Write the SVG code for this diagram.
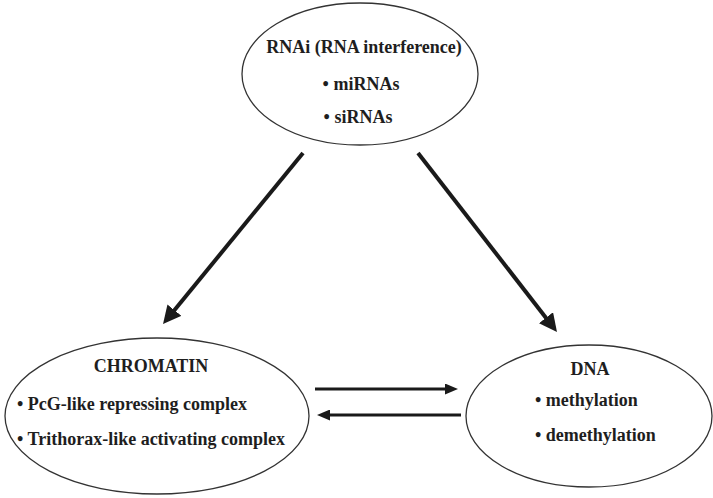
<svg xmlns="http://www.w3.org/2000/svg" width="713" height="498" viewBox="0 0 713 498">
<style>
.node ellipse{fill:#fff;stroke:#333;stroke-width:1.3}
text{font-family:"Liberation Serif","Times New Roman",serif;font-weight:bold;font-size:18px;fill:#1e1e1e}
.c{text-anchor:middle}
.big{stroke:#1a1a1a;stroke-width:4;fill:none}
.small{stroke:#1a1a1a;stroke-width:3;fill:none}
</style>
<defs>
<marker id="hb" markerUnits="userSpaceOnUse" markerWidth="18" markerHeight="18" refX="4" refY="9" orient="auto">
<path d="M0,0 L18,9 L0,18 z" fill="#1a1a1a"/>
</marker>
<marker id="hs" markerUnits="userSpaceOnUse" markerWidth="13" markerHeight="11" refX="3" refY="5.5" orient="auto">
<path d="M0,0 L13,5.5 L0,11 z" fill="#1a1a1a"/>
</marker>
</defs>
<rect width="713" height="498" fill="#fff"/>
<g id="rnai" class="node">
<ellipse cx="360" cy="74" rx="118" ry="71"/>
<text class="c" x="364" y="53">RNAi (RNA interference)</text>
<text class="c" x="361" y="90">• miRNAs</text>
<text class="c" x="358" y="123">• siRNAs</text>
</g>
<g id="chromatin" class="node">
<ellipse cx="157" cy="416" rx="152" ry="78"/>
<text class="c" x="151" y="372">CHROMATIN</text>
<text x="17" y="410">• PcG-like repressing complex</text>
<text x="17" y="445">• Trithorax-like activating complex</text>
</g>
<g id="dna" class="node">
<ellipse cx="589" cy="416" rx="123" ry="71"/>
<text class="c" x="590" y="375">DNA</text>
<text x="535" y="406">• methylation</text>
<text x="535" y="441">• demethylation</text>
</g>
<g id="connectors">
<line class="big" x1="303" y1="153" x2="171.9" y2="313.2" marker-end="url(#hb)"/>
<line class="big" x1="418" y1="153" x2="548.4" y2="320.9" marker-end="url(#hb)"/>
<line class="small" x1="315" y1="389" x2="448" y2="389" marker-end="url(#hs)"/>
<line class="small" x1="461" y1="415" x2="327" y2="415" marker-end="url(#hs)"/>
</g>
</svg>
